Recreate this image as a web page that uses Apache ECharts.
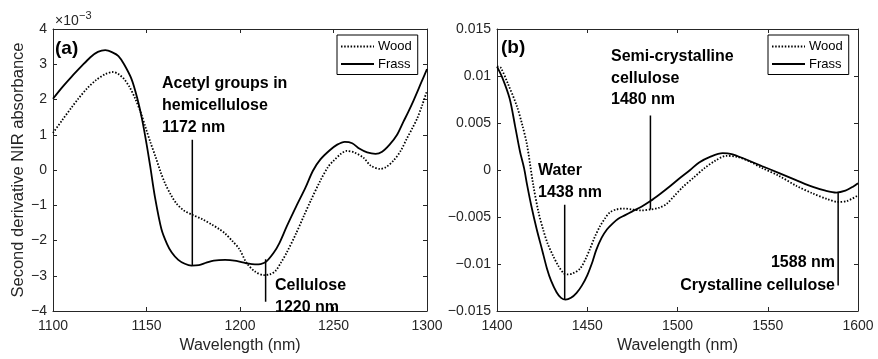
<!DOCTYPE html>
<html><head><meta charset="utf-8">
<script src="https://cdn.jsdelivr.net/npm/echarts@6/dist/echarts.min.js"></script>
<style>html,body{margin:0;padding:0;background:#fff}#c{width:878px;height:359px}</style>
</head><body><div id="c"></div>
<script>
// ---------- Panel (a): 1100-1300 nm, values in units of 1e-3 ----------
const woodA_x = [1100,1105,1110,1113.5,1118,1123,1128,1132,1135,1138,1141,1144,1147,1149.6,1152,1155,1157.5,1160,1163,1166,1170,1174.5,1180,1185,1189,1192,1196,1199.6,1203.7,1208,1212.6,1216,1219,1222,1225,1230,1234,1238,1243,1247,1250,1254,1257,1261,1266,1270,1275,1278,1282,1286,1289.4,1292,1294.8,1297.5,1300];
const woodA_y = [1.05,1.42,1.78,2.02,2.3,2.55,2.72,2.78,2.72,2.58,2.35,2.02,1.62,1.19,0.8,0.35,-0.05,-0.39,-0.7,-0.95,-1.15,-1.27,-1.4,-1.55,-1.68,-1.8,-2.02,-2.24,-2.65,-2.88,-2.98,-2.96,-2.86,-2.62,-2.34,-1.8,-1.32,-0.85,-0.30,0.08,0.26,0.46,0.54,0.50,0.35,0.12,0.03,0.08,0.26,0.55,0.91,1.17,1.47,1.85,2.25];
const frassA_x = [1100,1105,1110,1115,1120,1124,1128,1132,1135,1138,1142,1145,1147.5,1150,1152,1154.5,1158,1161,1163.5,1167,1170.5,1174,1178,1182,1186,1192,1198,1203,1208,1211,1214,1218,1221,1225,1230,1235,1239,1243,1248,1252,1256,1260,1264,1268,1272.5,1276,1280,1284,1287.4,1290,1292.8,1297,1300];
const frassA_y = [2.02,2.35,2.65,2.93,3.2,3.35,3.40,3.33,3.23,3.0,2.58,2.05,1.47,0.75,0.1,-0.76,-1.68,-2.1,-2.34,-2.55,-2.66,-2.71,-2.70,-2.63,-2.57,-2.55,-2.58,-2.64,-2.68,-2.67,-2.6,-2.35,-2.08,-1.6,-1.04,-0.5,-0.02,0.3,0.56,0.72,0.80,0.76,0.60,0.50,0.46,0.52,0.72,1.0,1.37,1.65,1.97,2.49,2.86];
const annA_x   = [1174.5, 1213.7];
const annA_top = [0.86, -2.53];
const annA_bot = [-2.71, -3.74];

// ---------- Panel (b): 1400-1600 nm ----------
const woodB_x = [1400,1402,1406,1411,1414,1416.6,1420,1423,1425.5,1428,1431,1434,1437,1439,1442,1446,1449,1451.5,1454,1457,1460,1462.6,1466,1470,1475,1480,1485,1490,1494,1498,1503,1509,1515,1521,1527,1533,1540,1547,1556,1566,1575,1583,1589,1594,1600];
const woodB_y = [0.0110,0.0109,0.0092,0.0068,0.0048,0.0027,-0.0015,-0.0045,-0.0063,-0.0078,-0.0091,-0.0102,-0.0110,-0.0111,-0.0110,-0.0105,-0.0095,-0.0084,-0.0072,-0.0060,-0.0051,-0.0045,-0.0042,-0.0041,-0.0042,-0.0043,-0.0042,-0.0040,-0.0036,-0.0028,-0.0018,-0.0008,0.0002,0.0010,0.0015,0.0014,0.0009,0.0002,-0.0006,-0.0017,-0.0025,-0.0031,-0.0034,-0.0033,-0.0027];
const frassB_x = [1400,1403,1407,1410,1412.7,1415,1416.6,1419,1422,1425,1427.7,1430,1433,1435.5,1438,1441,1444,1447,1450,1453,1455,1458,1461,1464,1467,1471,1475,1480,1485,1490,1496,1501,1507,1512,1518,1525,1530,1537,1547,1556,1566,1575,1582,1588,1593,1597,1600];
const frassB_y = [0.0110,0.0098,0.0076,0.0047,0.0020,0.0002,-0.0015,-0.0038,-0.0063,-0.0085,-0.0105,-0.0118,-0.0130,-0.0136,-0.0138,-0.0136,-0.0131,-0.0123,-0.0112,-0.0097,-0.0085,-0.0072,-0.0063,-0.0057,-0.0052,-0.0048,-0.0044,-0.0039,-0.0033,-0.0026,-0.0017,-0.0009,0.0000,0.0008,0.0014,0.0018,0.0017,0.0012,0.0004,-0.0003,-0.0011,-0.0018,-0.0022,-0.0024,-0.0022,-0.0018,-0.0014];
const annB_x   = [1437.5, 1485, 1589];
const annB_top = [-0.0037, 0.0058, -0.0024];
const annB_bot = [-0.0138, -0.0042, -0.0123];

const seriesNames = ['Wood', 'Frass'];
const xTicksA = [1100, 1300, 50];
const xTicksB = [1400, 1600, 50];
const yTicksA = [-4, 4, 1];
const yTicksB = [-0.015, 0.015, 0.005];

const FONT = "'Liberation Sans', Arial, sans-serif";
const AX = '#262626';
const zip = (xs, ys) => xs.map((x, i) => [x, ys[i]]);
const minus = v => String(v).replace('-', '\u2212');

function xAxis(grid, pos, t, labels, name) {
  return {
    type: 'value', gridIndex: grid, position: pos, min: t[0], max: t[1], interval: t[2],
    axisLine: { show: true, onZero: false, lineStyle: { color: AX, width: 1 } },
    axisTick: { show: true, inside: true, length: 4, lineStyle: { color: AX } },
    axisLabel: { show: labels, fontSize: 14, color: AX, fontFamily: FONT, margin: 8, formatter: v => String(v), showMinLabel: true, showMaxLabel: true },
    splitLine: { show: false },
    name: name || '', nameLocation: 'middle', nameGap: 27,
    nameTextStyle: { fontSize: 16, color: AX, fontFamily: FONT }
  };
}
function yAxis(grid, pos, t, labels, fmt, name) {
  return {
    type: 'value', gridIndex: grid, position: pos, min: t[0], max: t[1], interval: t[2],
    axisLine: { show: true, onZero: false, lineStyle: { color: AX, width: 1 } },
    axisTick: { show: true, inside: true, length: 4, lineStyle: { color: AX } },
    axisLabel: { show: labels, fontSize: 14, color: AX, fontFamily: FONT, margin: 6, formatter: fmt, showMinLabel: true, showMaxLabel: true },
    splitLine: { show: false },
    name: name || '', nameLocation: 'middle', nameGap: 26,
    nameTextStyle: { fontSize: 16.5, color: AX, fontFamily: FONT }
  };
}
function curve(name, data, xi, yi, dotted) {
  return {
    name, type: 'line', xAxisIndex: xi, yAxisIndex: yi, data, symbol: 'none', smooth: 0.3,
    lineStyle: { color: '#000', width: 1.8, type: dotted ? [1.5, 1.7] : 'solid' },
    itemStyle: { color: '#000' }, silent: true, z: 3
  };
}
function annLines(xs, tops, bots, xi, yi) {
  return xs.map((x, i) => ({
    type: 'line', xAxisIndex: xi, yAxisIndex: yi, data: [[x, tops[i]], [x, bots[i]]],
    symbol: 'none', silent: true, lineStyle: { color: '#000', width: 1.5 }, z: 4
  }));
}
function txt(text, x, y, opts) {
  opts = opts || {};
  return {
    type: 'text', x, y, z: 10,
    style: {
      text, fill: opts.fill || '#000', fontFamily: FONT,
      fontSize: opts.size || 16, fontWeight: opts.bold === false ? 'normal' : 'bold',
      align: opts.align || 'left', verticalAlign: 'middle'
    }
  };
}
function legend(left) {
  return {
    data: seriesNames, orient: 'vertical', left, top: 35,
    backgroundColor: '#fff', borderColor: '#000', borderWidth: 1, borderRadius: 0,
    padding: [5, 6, 4, 3], itemWidth: 33, itemHeight: 12, itemGap: 4.5,
    itemStyle: { opacity: 0 },
    textStyle: { fontSize: 13, color: '#000', fontFamily: FONT, padding: [0, 0, 0, -1] },
    selectedMode: false
  };
}

const chart = echarts.init(document.getElementById('c'), null, { renderer: 'canvas' });
chart.setOption({
  animation: false,
  backgroundColor: '#fff',
  grid: [
    { left: 53, top: 29, width: 374, height: 287 },
    { left: 497, top: 29, width: 361, height: 287 }
  ],
  xAxis: [
    xAxis(0, 'bottom', xTicksA, true, 'Wavelength (nm)'),
    xAxis(0, 'top', xTicksA, false),
    xAxis(1, 'bottom', xTicksB, true, 'Wavelength (nm)'),
    xAxis(1, 'top', xTicksB, false)
  ],
  yAxis: [
    yAxis(0, 'left', yTicksA, true, v => minus(Math.round(v)), 'Second derivative NIR absorbance'),
    yAxis(0, 'right', yTicksA, false),
    yAxis(1, 'left', yTicksB, true, v => minus(Number(v.toFixed(3)))),
    yAxis(1, 'right', yTicksB, false)
  ],
  legend: [legend(337), legend(768)],
  series: [
    curve('Wood', zip(woodA_x, woodA_y), 0, 0, true),
    curve('Frass', zip(frassA_x, frassA_y), 0, 0, false),
    curve('Wood', zip(woodB_x, woodB_y), 2, 2, true),
    curve('Frass', zip(frassB_x, frassB_y), 2, 2, false),
    ...annLines(annA_x, annA_top, annA_bot, 0, 0),
    ...annLines(annB_x, annB_top, annB_bot, 2, 2)
  ],
  graphic: [
    txt('\u00d710', 55, 21, { size: 14, bold: false, fill: AX }),
    txt('\u22123', 79, 16, { size: 11, bold: false, fill: AX }),
    txt('(a)', 55, 49, { size: 19 }),
    txt('(b)', 501, 48, { size: 19 }),
    txt('Acetyl groups in', 162, 84),
    txt('hemicellulose', 162, 106),
    txt('1172 nm', 162, 128),
    txt('Cellulose', 275, 286),
    txt('1220 nm', 275, 308),
    txt('Semi-crystalline', 611, 57),
    txt('cellulose', 611, 79),
    txt('1480 nm', 611, 100),
    txt('Water', 538, 171),
    txt('1438 nm', 538, 193),
    txt('1588 nm', 835, 263, { align: 'right' }),
    txt('Crystalline cellulose', 835, 286, { align: 'right' })
  ]
});
</script></body></html>
